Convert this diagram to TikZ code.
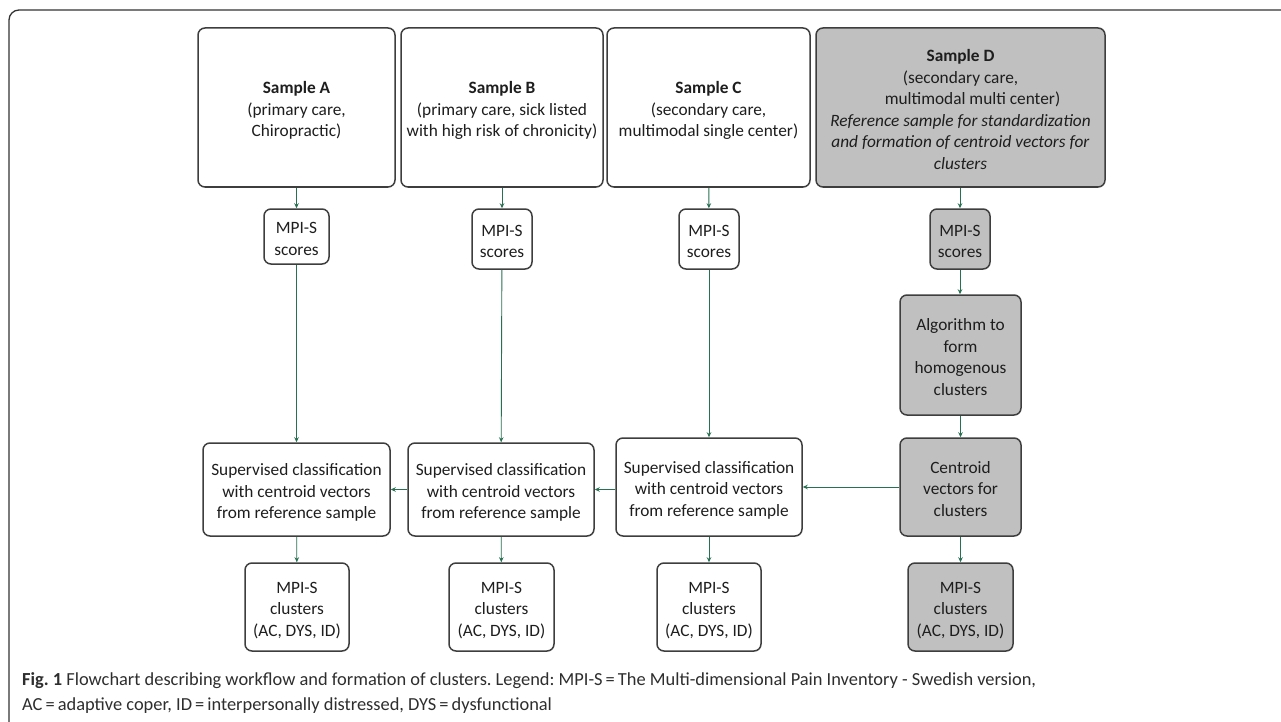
\documentclass[tikz,border=0pt]{standalone}
\usepackage{fontspec}
\setmainfont{Carlito}
\usetikzlibrary{arrows.meta}
\definecolor{bordercol}{RGB}{62,62,62}
\definecolor{grayfill}{RGB}{192,192,192}
\definecolor{conncol}{RGB}{40,112,82}
\definecolor{textcol}{RGB}{30,30,30}
\newcommand\bxt[1]{\raisebox{-3.5pt}[\height][\depth]{\begin{tabular}{@{}c@{}}#1\end{tabular}}}
\tikzset{
  box/.style={draw=bordercol, line width=1.5pt, rounded corners=7pt, align=center,
    inner sep=0pt, text=textcol, font=\fontsize{17.3}{21.5}\selectfont},
  gbox/.style={box, fill=grayfill},
  conn/.style={draw=conncol, line width=0.9pt, -{Stealth[length=5pt,width=4.5pt]}},
  captext/.style={anchor=base west, inner sep=0pt, text=black!82, font=\frenchspacing\fontsize{18.4}{25}\selectfont},
}
\begin{document}
\begin{tikzpicture}[x=1pt,y=-1pt]
\useasboundingbox (0,0) rectangle (1281,722);
\fill[white] (0,0) rectangle (1281,722);
% outer frame
\draw[line width=1.3pt, black!80, rounded corners=10pt] (9,740) -- (9,10) -- (1300,10);

% samples
\node[box, minimum width=197, minimum height=159] (sA) at (296.5,107.5)
  {\bxt{\textbf{Sample A}\\(primary care,\\Chiropractic)}};
\node[box, minimum width=202, minimum height=159] (sB) at (502,107.5)
  {\bxt{\textbf{Sample B}\\(primary care, sick listed\\with high risk of chronicity)}};
\node[box, minimum width=203, minimum height=159] (sC) at (708.5,107.5)
  {\bxt{\textbf{Sample C}\\(secondary care,\\multimodal single center)}};
\node[gbox, minimum width=289, minimum height=159] (sD) at (960.5,107.5)
  {\bxt{\textbf{Sample D}\\(secondary care,\\\hspace*{24pt}multimodal multi center)\\\textit{Reference sample for standardization}\\\textit{and formation of centroid vectors for}\\\textit{clusters}}};

% MPI-S scores
\node[box, minimum width=65, minimum height=55] (mA) at (296.5,236.5) {\bxt{MPI-S\\scores}};
\node[box, minimum width=60, minimum height=60] (mB) at (502,239) {\bxt{MPI-S\\scores}};
\node[box, minimum width=60, minimum height=60] (mC) at (709,239) {\bxt{MPI-S\\scores}};
\node[gbox, minimum width=60, minimum height=60] (mD) at (960,239) {\bxt{MPI-S\\scores}};

% algorithm and centroid
\node[gbox, minimum width=121, minimum height=120] (alg) at (960.5,355)
  {\bxt{Algorithm to\\form\\homogenous\\clusters}};
\node[gbox, minimum width=121, minimum height=98] (cen) at (960.5,487)
  {\bxt{Centroid\\vectors for\\clusters}};

% supervised classification
\node[box, minimum width=186, minimum height=98] (supC) at (709,487)
  {\bxt{Supervised classification\\with centroid vectors\\from reference sample}};
\node[box, minimum width=186, minimum height=93] (supB) at (501,489.5)
  {\bxt{Supervised classification\\with centroid vectors\\from reference sample}};
\node[box, minimum width=187, minimum height=93] (supA) at (296.5,489.5)
  {\bxt{Supervised classification\\with centroid vectors\\from reference sample}};

% clusters
\node[box, minimum width=104, minimum height=88] (cA) at (297,607) {\bxt{MPI-S\\clusters\\(AC, DYS, ID)}};
\node[box, minimum width=105, minimum height=88] (cB) at (501.5,607) {\bxt{MPI-S\\clusters\\(AC, DYS, ID)}};
\node[box, minimum width=104, minimum height=88] (cC) at (709,607) {\bxt{MPI-S\\clusters\\(AC, DYS, ID)}};
\node[gbox, minimum width=105, minimum height=88] (cD) at (960.5,607) {\bxt{MPI-S\\clusters\\(AC, DYS, ID)}};

% connectors
\draw[conn] (sA) -- (mA);
\draw[conn] (sB) -- (mB);
\draw[conn] (sC) -- (mC);
\draw[conn] (sD.south -| mD) -- (mD);
\draw[conn] (mA) -- (supA);
\draw[conn] (mB) -- (supB);
\draw[conn] (mC) -- (supC);
\draw[conn] (mD) -- (alg.north -| mD);
\draw[conn] (alg) -- (cen);
\draw[conn] (cen) -- (cD);
\draw[conn] (supA) -- (cA);
\draw[conn] (supB) -- (cB);
\draw[conn] (supC) -- (cC);
\draw[conn] (cen) -- (supC);
\draw[conn] (supC.west |- supB.east) -- (supB);
\draw[conn] (supB) -- (supA);

% caption
\node[captext] (cap1) at (22,685)
  {\textbf{Fig. 1} Flowchart describing workflow and formation of clusters. Legend: MPI-S\,=\,The Multi-dimensional Pain Inventory - Swedish version,};
\node[captext] (cap2) at (22,710)
  {AC\,=\,adaptive coper, ID\,=\,interpersonally distressed, DYS\,=\,dysfunctional};
\end{tikzpicture}
\end{document}
